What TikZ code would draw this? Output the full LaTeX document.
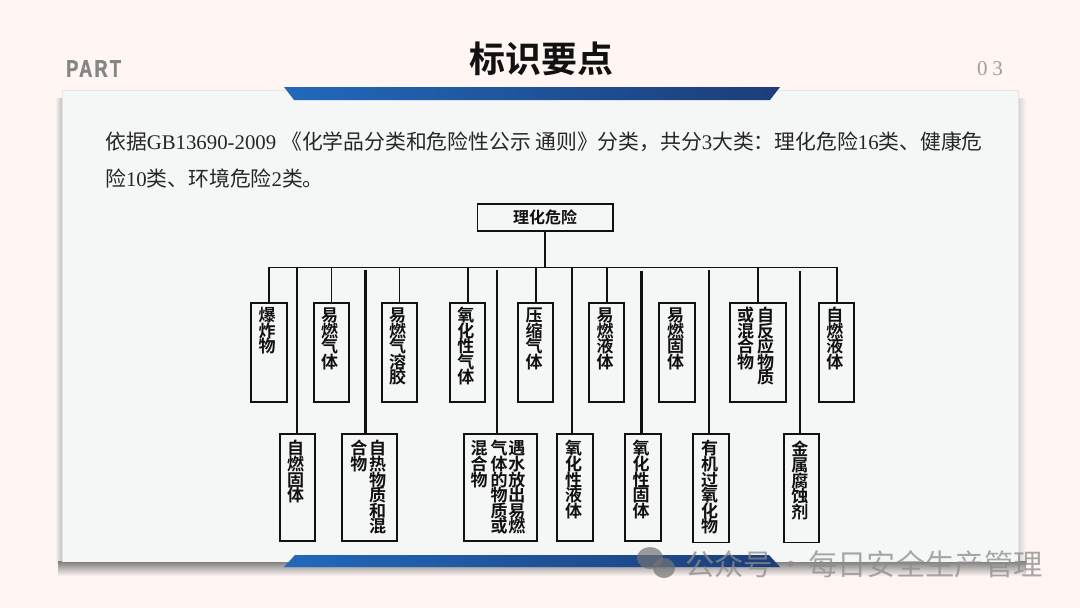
\documentclass[tikz,border=0pt]{standalone}
\usepackage{fontspec}
\usetikzlibrary{positioning}
\setmainfont{Noto Sans CJK SC}[BoldFont=Noto Sans CJK SC Bold]
\newfontfamily\latinfont{Liberation Serif}
\newfontfamily\partfont[FakeStretch=0.76,FakeBold=1.4,LetterSpace=9]{Liberation Sans Bold}
\newfontfamily\pagefont[LetterSpace=22]{Liberation Serif}
\XeTeXlinebreaklocale "zh"
\XeTeXlinebreakskip=0pt plus 1pt
\definecolor{page}{HTML}{FFF5F3}
\definecolor{panel}{HTML}{F5F6F6}
\definecolor{ink}{HTML}{111111}
\definecolor{bodyink}{HTML}{262626}
\definecolor{ribbona}{HTML}{2169BB}
\definecolor{ribbonb}{HTML}{1B57A3}
\definecolor{ribbonc}{HTML}{1D3D78}
\tikzset{
  catbox/.style={draw=ink,line width=1.9pt,fill=panel,inner sep=0pt,outer sep=0pt,text=ink,font=\fontsize{17}{17}\selectfont\bfseries},
  upbox/.style={catbox,minimum height=99pt,text height=18.4pt,text depth=80.6pt},
  lowbox/.style={catbox,minimum height=107pt,text height=20.9pt,text depth=86.1pt},
  link/.style={draw=ink,line width=1.8pt},
  stem/.style={draw=ink,line width=2.6pt},
  stamp/.style={text=gray!90,opacity=.75,font=\fontsize{29.3}{29.3}\selectfont},
}
% one column of upright characters, top to bottom
\newcommand{\vlabel}[1]{\vtop{\hsize=17.2pt\parindent=0pt\baselineskip=15.6pt\lineskiplimit=-20pt\raggedright #1}}
\begin{document}
\begin{tikzpicture}[x=1pt,y=-1pt]
\useasboundingbox (0,0) rectangle (1080,608);
\fill[page] (0,0) rectangle (1080,608);

% Panel and its shadow
\shade[left color=page,right color=black!25] (55,98) rectangle (62,562);
\shade[left color=black!17,right color=page] (1018,98) rectangle (1026,562);
\shade[top color=black!52,bottom color=page] (58,561) rectangle (1026,576);
\fill[panel] (62,90) rectangle (1018,561.5);
\draw[black!10,line width=.6pt] (62,561.5) |- (1018,90) -- (1018,561.5);

% Ribbons
\shade[left color=ribbona,middle color=ribbonb,right color=ribbonc] (284,87) -- (780,87) -- (770,100) -- (294,100) -- cycle;
\shade[left color=ribbona,middle color=ribbonb,right color=ribbonc] (295,555) -- (769,555) -- (780,567) -- (284,567) -- cycle;

% Heading
\node[font=\fontsize{36}{36}\selectfont\bfseries,text=ink] (title) at (541,59) {标识要点};
\node[anchor=west,inner sep=0pt,text=black!48,font=\fontsize{24}{24}\selectfont\partfont] (part) at (66,68.5) {PART};
\node[anchor=west,inner sep=0pt,text=black!38,font=\fontsize{21}{21}\selectfont\pagefont] (pageno) at (977,68.5) {03};

% Intro text
\node[anchor=west,inner sep=0pt,text=bodyink,font=\fontsize{20.8}{20.8}\selectfont] (line1) at (105,142)
{依据{\latinfont GB13690-2009}\kern5pt 《化学品分类和危险性公示 通则》分类，共分{\latinfont 3}大类：理化危险{\latinfont 16}类、健康危};
\node[anchor=west,inner sep=0pt,text=bodyink,font=\fontsize{20.8}{20.8}\selectfont] (line2) at (105,179)
{险{\latinfont 10}类、环境危险{\latinfont 2}类。};

% Root
\node[catbox,minimum width=135.5pt,minimum height=27pt,font=\fontsize{16}{16}\selectfont\bfseries] (physical) at (545.2,217.5) {理化危险};

% First row
\node[upbox,minimum width=36pt,anchor=north west] (explosive) at (251,303) {\vlabel{爆炸物}\kern3.4pt};
\node[upbox,minimum width=35.5pt,right=26.7pt of explosive] (flamgas) {\vlabel{易燃气体}\kern3.4pt};
\node[upbox,minimum width=35.5pt,right=32.5pt of flamgas] (aerosol) {\vlabel{易燃气溶胶}\kern3.4pt};
\node[upbox,minimum width=35.5pt,right=32.7pt of aerosol] (oxgas) {\vlabel{氧化性气体}\kern3.4pt};
\node[upbox,minimum width=35pt,right=33pt of oxgas] (compgas) {\vlabel{压缩气体}\kern3.4pt};
\node[upbox,minimum width=35pt,right=36pt of compgas] (flamliq) {\vlabel{易燃液体}\kern3.4pt};
\node[upbox,minimum width=36pt,right=35pt of flamliq] (flamsol) {\vlabel{易燃固体}\kern3.4pt};
\node[upbox,minimum width=55.5pt,right=35pt of flamsol] (selfreact) {\vlabel{或混合物}\kern2.8pt\vlabel{自反应物质}\kern5pt};
\node[upbox,minimum width=35pt,right=33.3pt of selfreact] (pyroliq) {\vlabel{自燃液体}\kern3.4pt};

% Second row
\node[lowbox,minimum width=35pt,anchor=north west] (pyrosol) at (280,434) {\vlabel{自燃固体}\kern3.4pt};
\node[lowbox,minimum width=55pt,right=27.3pt of pyrosol] (selfheat) {\vlabel{合物}\kern1.5pt\vlabel{自热物质和混}\kern2.9pt};
\node[lowbox,minimum width=73.3pt,right=66.7pt of selfheat] (waterreact) {\vlabel{混合物}\kern2.8pt\vlabel{气体的物质或}\kern.5pt\vlabel{遇水放出易燃}\kern5pt};
\node[lowbox,minimum width=36.2pt,right=19.9pt of waterreact] (oxliq) {\vlabel{氧化性液体}\kern3.4pt};
\node[lowbox,minimum width=35.9pt,right=31.6pt of oxliq] (oxsol) {\vlabel{氧化性固体}\kern3.4pt};
\node[lowbox,minimum width=36.2pt,minimum height=108.5pt,text depth=87.6pt,right=32.3pt of oxsol,yshift=-.75pt] (organic) {\vlabel{有机过氧化物}\kern3.4pt};
\node[lowbox,minimum width=35.5pt,minimum height=108.5pt,text height=21.9pt,text depth=86.6pt,right=54.4pt of organic] (corrosive) {\vlabel{金属腐蚀剂}\kern3.4pt};

% Connectors
\coordinate (hub) at (545.2,267.5);
\draw[link] (physical) -- (hub);
\foreach \name in {explosive,flamgas,aerosol,oxgas,compgas,flamliq,selfreact,pyroliq}
  \draw[link] (hub) -| (\name.north);
\foreach \name/\stemx/\stemy in {pyrosol/296.8/268,selfheat/365.7/270,waterreact/497/270,oxliq/571.8/268,oxsol/641.6/271,organic/709/270,corrosive/800/271} {
  \coordinate (top\name) at (\stemx,\stemy);
  \draw[stem] (top\name) -- (top\name |- \name.north);
}

% Watermark
\fill[black!55,opacity=.7] (650,558) ellipse (13pt and 11pt);
\fill[black!55,opacity=.7] (664,568) ellipse (11pt and 10pt);
\node[stamp,anchor=west,inner sep=0pt] (wechat) at (685,564) {公众号\kern3pt·\kern3pt 每日安全生产管理};
\end{tikzpicture}
\end{document}
